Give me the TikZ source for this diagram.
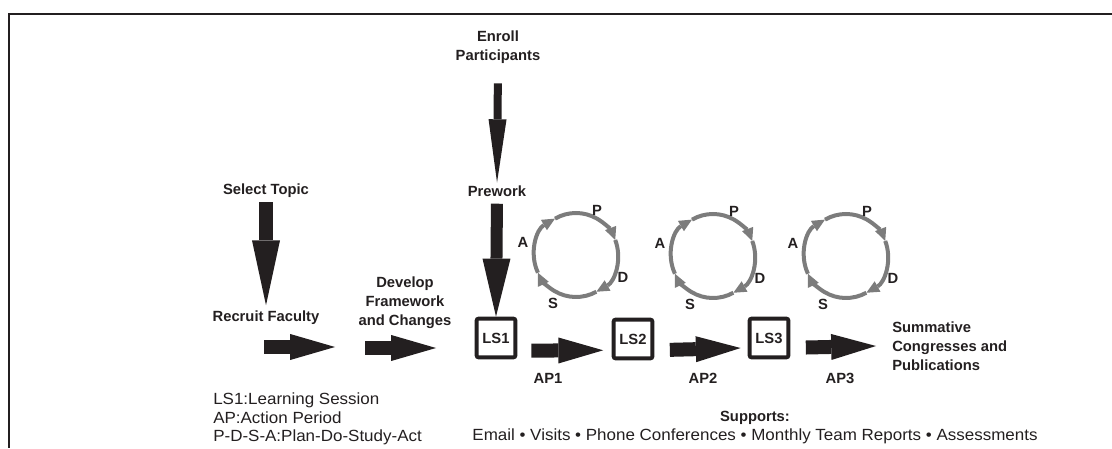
\documentclass[tikz,border=0pt]{standalone}
\usepackage{fontspec}
\setmainfont{Liberation Sans}
\newfontfamily\narrowfont[FakeStretch=1.05]{Liberation Sans}
\usetikzlibrary{arrows.meta}
\definecolor{ink}{HTML}{231F20}
\definecolor{cyclegray}{HTML}{7C7C7C}

\begin{document}
\begin{tikzpicture}[x=0.025cm, y=0.025cm,
    lbl/.style={font=\fontsize{10.5}{13.5}\selectfont\bfseries, text=ink, align=center, inner sep=0pt},
    legend/.style={font=\narrowfont\fontsize{11.5}{13}\selectfont, text=ink, inner sep=0pt},
    lsbox/.style={draw=ink, line width=2.8pt, rounded corners=1.5pt, minimum size=0.97cm, inner sep=0pt,
        font=\fontsize{10.5}{12}\selectfont\bfseries, text=ink},
    blockright/.style={draw=ink, line width=0.35cm, -{Triangle[length=1.12cm,width=0.65cm,line width=0pt,sep=-0.12cm]}},
    cyclearrow/.style={draw=cyclegray, line width=0.1cm, -{Triangle[length=0.32cm,width=0.3cm,line width=0pt]}}]
    \useasboundingbox (0,0) rectangle (1112,448);
    \draw[ink, line width=1.8pt] (1112,434) -- (9,434) -- (9,0);

    \node[lbl] (enroll) at (498,401) {Enroll\\Participants};
    \node[lbl] (prework) at (497,257) {Prework};
    \node[lbl] (topic) at (266,257) {Select Topic};
    \node[lbl] (recruit) at (266,130) {Recruit Faculty};
    \node[lbl] (develop) at (405,145) {Develop\\Framework\\and Changes};
    \node[lsbox] (ls1) at (496,110) {LS1};
    \node[lsbox] (ls2) at (633,109) {LS2};
    \node[lsbox] (ls3) at (769,110) {LS3};
    \node[lbl, align=left, anchor=west] (summative) at (892,102) {Summative\\Congresses and\\Publications};
    \node[lbl] (ap1) at (548,70) {AP1};
    \node[lbl] (ap2) at (703,70) {AP2};
    \node[lbl] (ap3) at (840,70) {AP3};

    \coordinate (r1) at (264,101);
    \coordinate (r2) at (335,101);
    \coordinate (d1) at (365,100);
    \coordinate (d2) at (436,100);

    \draw[draw=ink, line width=0.2cm, -{Triangle[length=1.58cm,width=0.45cm,line width=0pt,sep=-0.12cm]}, shorten <=14pt, shorten >=5.4pt] (enroll.south) -- (prework.north);
    \draw[draw=ink, line width=0.3cm, -{Triangle[length=1.45cm,width=0.7cm,line width=0pt,sep=-0.12cm]}, shorten <=5pt, shorten >=3.4pt] (prework.south) -- (ls1.north);
    \draw[draw=ink, line width=0.35cm, -{Triangle[length=1.62cm,width=0.7cm,line width=0pt,sep=-0.12cm]}, shorten <=3pt, shorten >=7.4pt] (topic.south) -- (recruit.north);
    \draw[blockright, shorten >=3.4pt] (r1) -- (r2);
    \draw[blockright, shorten >=3.4pt] (d1) -- (d2);
    \draw[blockright, shorten <=10pt, shorten >=9.4pt] ([yshift=-9pt]ls1.east) -- ([yshift=-8pt]ls2.west);
    \draw[blockright, shorten <=11pt, shorten >=8.4pt] ([yshift=-8pt]ls2.east) -- ([yshift=-7pt]ls3.west);
    \draw[blockright, shorten <=11pt, shorten >=3.4pt] ([yshift=-7pt]ls3.east) -- (summative.west -| 876,100);

    \foreach \cx/\cy in {576/193, 713/192, 846/192} {
        \draw[cyclearrow] (\cx,\cy) ++(205:42) arc[start angle=205, end angle=120, radius=42];
        \draw[cyclearrow] (\cx,\cy) ++(120:42) arc[start angle=120, end angle=21, radius=42];
        \draw[cyclearrow] (\cx,\cy) ++(21:42) arc[start angle=21, end angle=-61, radius=42];
        \draw[cyclearrow] (\cx,\cy) ++(-61:42) arc[start angle=-61, end angle=-155, radius=42];
        \node[lbl] at (\cx+21,\cy+45) {P};
        \node[lbl] at (\cx-53,\cy+13) {A};
        \node[lbl] at (\cx+47,\cy-22) {D};
        \node[lbl] at (\cx-23,\cy-48) {S};
    }

    \node[legend, anchor=west] (leg1) at (213,48) {LS1:Learning Session};
    \node[legend, anchor=west] (leg2) at (213,30) {AP:Action Period};
    \node[legend, anchor=west] (leg3) at (213,11) {P-D-S-A:Plan-Do-Study-Act};
    \node[lbl] (supports) at (755,30) {Supports:};
    \node[legend] (supportlist) at (755,12) {Email \textbullet{} Visits \textbullet{} Phone Conferences \textbullet{} Monthly Team Reports \textbullet{} Assessments};
\end{tikzpicture}
\end{document}
